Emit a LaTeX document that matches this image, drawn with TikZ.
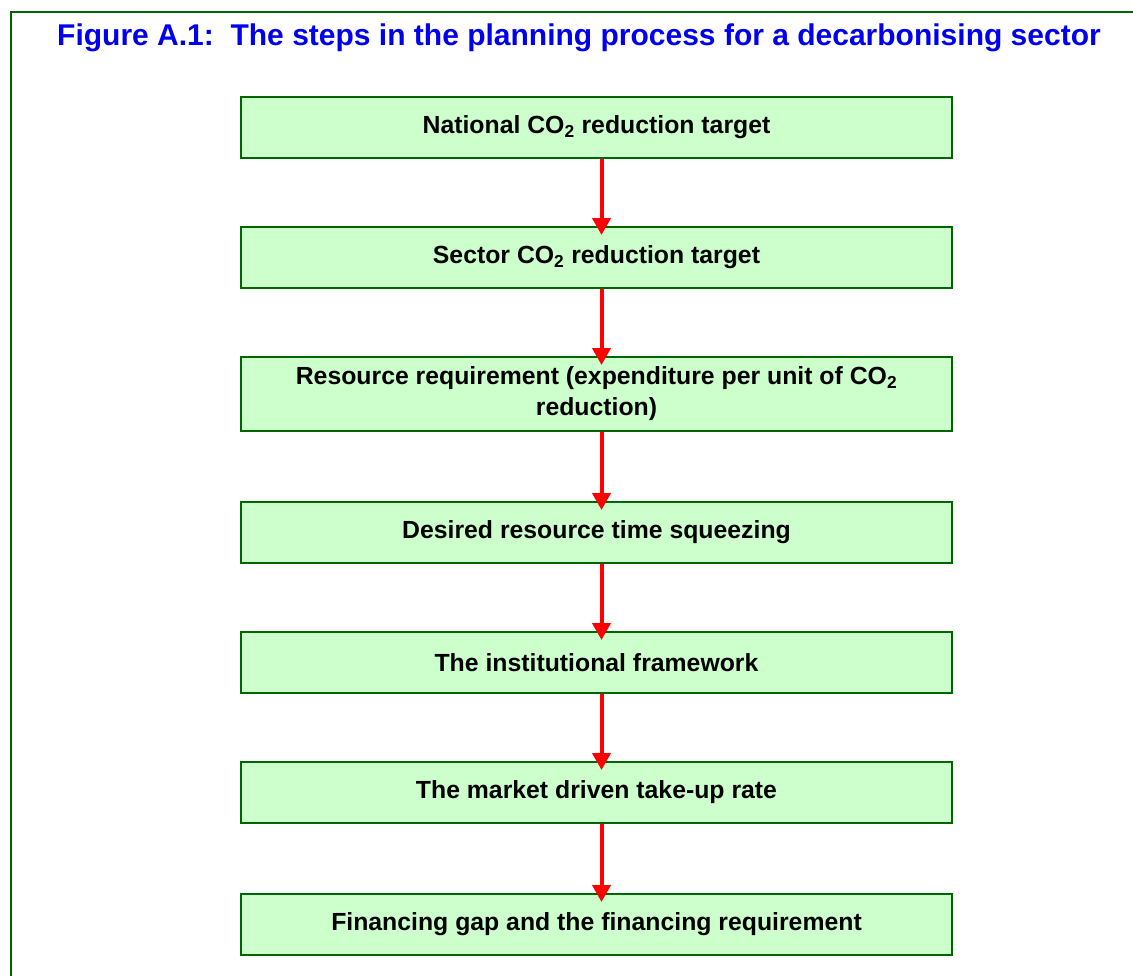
\documentclass[tikz,border=0pt]{standalone}
\usepackage{fontspec}
\setmainfont{Liberation Sans}
\usepackage{tikz}
\usetikzlibrary{arrows.meta, positioning}
\definecolor{framegreen}{RGB}{0,102,0}
\definecolor{boxfill}{RGB}{204,255,204}
\definecolor{titleblue}{RGB}{0,0,238}
\newcommand{\cotwo}{CO\textsubscript{2}}

\begin{document}
\begin{tikzpicture}[
    x=1pt, y=-1pt,
    node distance=67pt,
    stepbox/.style={rectangle, draw=framegreen, line width=2pt, fill=boxfill, minimum width=711pt, minimum height=61pt, inner sep=0pt, align=center, font=\fontsize{24.8}{31}\selectfont\bfseries},
    flow/.style={-{Triangle[length=17pt, width=18pt]}, draw=red, line width=4pt, shorten >=-9pt}
]
\useasboundingbox (0,0) rectangle (1133,975);
\draw[framegreen, line width=2.5pt] (11,980) -- (11,12) -- (1140,12);
\node[font=\fontsize{30}{34}\selectfont\bfseries, text=titleblue] (title) at (579,38) {Figure A.1:\ \ The steps in the planning process for a decarbonising sector};

\node[stepbox] (national) at (596.5,127.5) {National \cotwo{} reduction target};
\node[stepbox, below=of national] (sector) {Sector \cotwo{} reduction target};
\node[stepbox, below=of sector, minimum height=74pt] (resource) {Resource requirement (expenditure per unit of \cotwo\\reduction)};
\node[stepbox, below=69pt of resource] (squeeze) {Desired resource time squeezing};
\node[stepbox, below=of squeeze] (framework) {The institutional framework};
\node[stepbox, below=of framework] (takeup) {The market driven take-up rate};
\node[stepbox, below=69pt of takeup] (financing) {Financing gap and the financing requirement};

\foreach \a/\b in {national/sector, sector/resource, resource/squeeze, squeeze/framework, framework/takeup, takeup/financing}
    \draw[flow] ([xshift=5pt]\a.south) -- ([xshift=5pt]\b.north);
\end{tikzpicture}
\end{document}
